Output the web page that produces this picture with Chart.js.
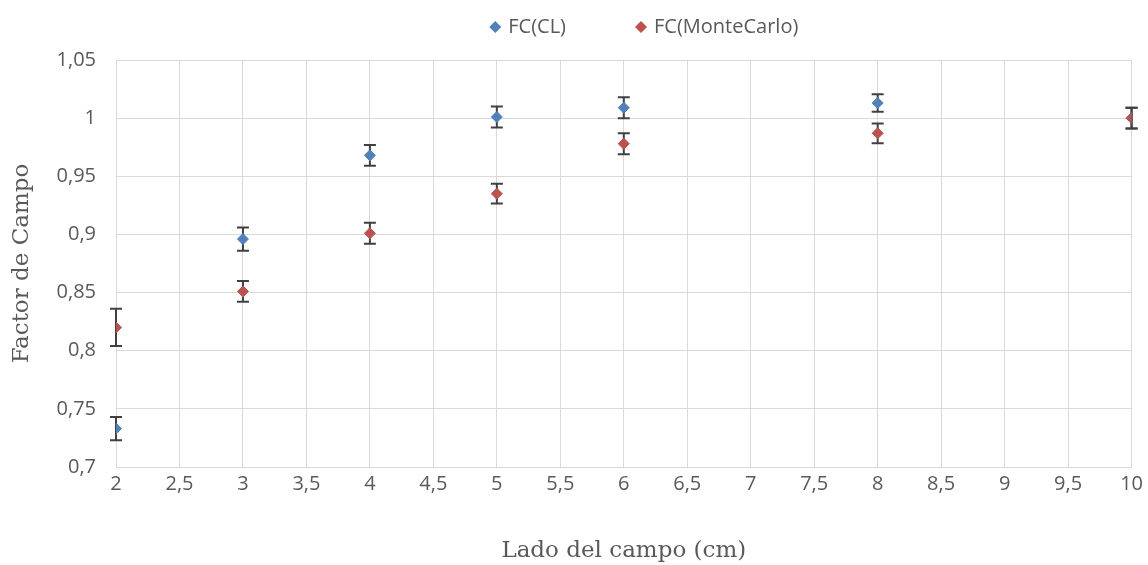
<!DOCTYPE html>
<html>
<head>
<meta charset="utf-8">
<script src="https://cdn.jsdelivr.net/npm/chart.js@4/dist/chart.umd.min.js"></script>
<style>
  html, body { margin: 0; padding: 0; background: #fff; }
  #wrap { width: 1148px; height: 565px; }
</style>
</head>
<body>
<div id="wrap"><canvas id="fcChart" width="1148" height="565"></canvas></div>
<script>
// Field sizes (cm)
const ladoCampo = [2, 3, 4, 5, 6, 8, 10];

// Field factor values
const fcCL = [0.733, 0.896, 0.968, 1.001, 1.009, 1.013, 1.0];
const fcCLErr = [0.010, 0.010, 0.009, 0.009, 0.009, 0.0075, 0.009];

const fcMC = [0.820, 0.851, 0.901, 0.935, 0.978, 0.987, 1.0];
const fcMCErr = [0.016, 0.009, 0.009, 0.0085, 0.009, 0.0085, 0.009];

const seriesNames = ['FC(CL)', 'FC(MonteCarlo)'];

function toPoints(xs, ys, errs) {
    return xs.map((x, i) => ({ x: x, y: ys[i], err: errs[i] }));
}

function comma(v) {
    return (Math.round(v * 100) / 100).toString().replace('.', ',');
}

const tickFont = { family: '"Open Sans", "Liberation Sans", sans-serif', size: 20 };
const titleFont = { family: '"DejaVu Serif", "Liberation Serif", serif', size: 23 };

// Draw error bars from the scales
const errorBars = {
    id: 'errorBars',
    beforeDatasetsDraw(chart) {
        const ctx = chart.ctx;
        const xs = chart.scales.x;
        const ys = chart.scales.y;
        ctx.save();
        ctx.strokeStyle = '#404040';
        ctx.lineWidth = 2;
        chart.data.datasets.forEach(ds => {
            ds.data.forEach(p => {
                const px = xs.getPixelForValue(p.x);
                const top = ys.getPixelForValue(p.y + p.err);
                const bot = ys.getPixelForValue(p.y - p.err);
                ctx.beginPath();
                ctx.moveTo(px, top);
                ctx.lineTo(px, bot);
                ctx.moveTo(px - 6, top);
                ctx.lineTo(px + 6, top);
                ctx.moveTo(px - 6, bot);
                ctx.lineTo(px + 6, bot);
                ctx.stroke();
            });
        });
        ctx.restore();
    }
};

// Excel-like legend with wide spacing between items
const topLegend = {
    id: 'topLegend',
    afterDraw(chart) {
        const ctx = chart.ctx;
        const gap = 69;
        const r = 6;
        ctx.save();
        ctx.font = tickFont.size + 'px ' + tickFont.family;
        ctx.textBaseline = 'middle';
        const items = chart.data.datasets.map(ds => ({
            text: ds.label,
            color: ds.backgroundColor,
            w: 2 * r + 7 + ctx.measureText(ds.label).width
        }));
        const total = items.reduce((s, it) => s + it.w, 0) + gap * (items.length - 1);
        const area = chart.chartArea;
        let x = (area.left + area.right) / 2 + 20 - total / 2;
        const y = 27;
        items.forEach(it => {
            ctx.fillStyle = it.color;
            ctx.beginPath();
            ctx.moveTo(x + r, y - r);
            ctx.lineTo(x + 2 * r, y);
            ctx.lineTo(x + r, y + r);
            ctx.lineTo(x, y);
            ctx.closePath();
            ctx.fill();
            ctx.fillStyle = '#595959';
            ctx.fillText(it.text, x + 2 * r + 7, y);
            x += it.w + gap;
        });
        ctx.restore();
    }
};

new Chart(document.getElementById('fcChart').getContext('2d'), {
    type: 'scatter',
    data: {
        datasets: [{
            label: seriesNames[0],
            data: toPoints(ladoCampo, fcCL, fcCLErr),
            pointStyle: 'rectRot',
            pointRadius: 5.5,
            borderWidth: 1,
            backgroundColor: '#4f81bd',
            borderColor: '#4f81bd',
            order: 1
        }, {
            label: seriesNames[1],
            data: toPoints(ladoCampo, fcMC, fcMCErr),
            pointStyle: 'rectRot',
            pointRadius: 5.5,
            borderWidth: 1,
            backgroundColor: '#c0504d',
            borderColor: '#c0504d',
            order: 0
        }]
    },
    options: {
        responsive: false,
        animation: false,
        layout: { padding: { top: 60, right: 15, bottom: 0, left: 0 } },
        plugins: {
            legend: { display: false },
            tooltip: { enabled: false }
        },
        scales: {
            x: {
                type: 'linear',
                min: 2,
                max: 10,
                ticks: {
                    stepSize: 0.5,
                    color: '#595959',
                    font: tickFont,
                    padding: 5,
                    maxRotation: 0,
                    callback: v => comma(v)
                },
                grid: { color: '#d9d9d9', lineWidth: 1, drawTicks: false },
                border: { color: '#d9d9d9' },
                title: {
                    display: true,
                    text: 'Lado del campo (cm)',
                    color: '#595959',
                    font: titleFont,
                    padding: { top: 22, bottom: 0 }
                },
                afterFit(scale) { scale.height = 98; }
            },
            y: {
                min: 0.7,
                max: 1.05,
                ticks: {
                    stepSize: 0.05,
                    color: '#595959',
                    font: tickFont,
                    padding: 20,
                    callback: v => comma(v)
                },
                grid: { color: '#d9d9d9', lineWidth: 1, drawTicks: false },
                border: { color: '#d9d9d9' },
                title: {
                    display: true,
                    text: 'Factor de Campo',
                    color: '#595959',
                    font: titleFont,
                    padding: { top: 8, bottom: 0 }
                },
                afterFit(scale) { scale.width = 116; }
            }
        }
    },
    plugins: [errorBars, topLegend]
});
</script>
</body>
</html>
